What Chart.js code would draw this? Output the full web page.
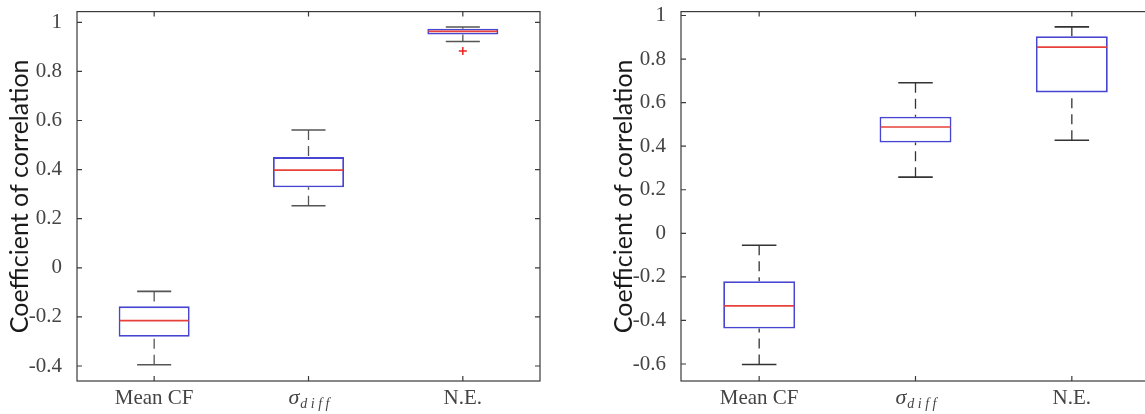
<!DOCTYPE html>
<html>
<head>
<meta charset="utf-8">
<script src="https://cdn.jsdelivr.net/npm/chart.js@4"></script>
<style>
  html, body { margin: 0; padding: 0; background: #fff; }
  body { width: 1145px; height: 414px; overflow: hidden; position: relative; }
  canvas { position: absolute; top: -8px; }
  #leftChart { left: 0; }
  #rightChart { left: 604px; }
</style>
</head>
<body>
<canvas id="leftChart" width="560" height="422"></canvas>
<canvas id="rightChart" width="566" height="422"></canvas>
<script>
// categories (the middle one is drawn as sigma with subscript "diff")
const categories = ['Mean CF', 'σdiff', 'N.E.'];

// left panel: five-number summaries per category
const leftMin    = [-0.395, 0.253, 0.922];
const leftQ1     = [-0.281, 0.328, 0.950];
const leftMedian = [-0.215, 0.398, 0.963];
const leftQ3     = [-0.157, 0.451, 0.974];
const leftMax    = [-0.096, 0.561, 0.981];
const leftOutliers = [{ x: 'N.E.', y: 0.883 }];
const leftTicks      = [-0.4, -0.2, 0, 0.2, 0.4, 0.6, 0.8, 1];
const leftTickLabels = ['-0.4', '-0.2', '0', '0.2', '0.4', '0.6', '0.8', '1'];

// right panel
const rightMin    = [-0.602, 0.258, 0.427];
const rightQ1     = [-0.437, 0.417, 0.647];
const rightMedian = [-0.333, 0.488, 0.855];
const rightQ3     = [-0.220, 0.535, 0.905];
const rightMax    = [-0.055, 0.691, 0.948];
const rightOutliers = [];
const rightTicks      = [-0.6, -0.4, -0.2, 0, 0.2, 0.4, 0.6, 0.8, 1];
const rightTickLabels = ['-0.6', '-0.4', '-0.2', '0', '0.2', '0.4', '0.6', '0.8', '1'];

const serif = '"Liberation Serif", "DejaVu Serif", serif';
const textColor = '#444';

// whiskers, caps and median lines, placed with the chart's own scales
const boxParts = {
    id: 'boxParts',
    afterDatasetsDraw(chart, args, opts) {
        const ctx = chart.ctx;
        const x = chart.scales.x, y = chart.scales.y;
        const bars = chart.getDatasetMeta(0).data;
        ctx.save();
        opts.median.forEach((m, i) => {
            const cx = x.getPixelForValue(i);
            const half = bars[i].width / 2;
            const cap = half * 0.48;
            // dashed whiskers
            ctx.strokeStyle = opts.whiskerColor;
            ctx.lineWidth = 1.3;
            ctx.setLineDash([10, 6]);
            ctx.beginPath();
            ctx.moveTo(cx, y.getPixelForValue(opts.max[i]));
            ctx.lineTo(cx, y.getPixelForValue(opts.q3[i]));
            ctx.moveTo(cx, y.getPixelForValue(opts.min[i]));
            ctx.lineTo(cx, y.getPixelForValue(opts.q1[i]));
            ctx.stroke();
            // caps
            ctx.setLineDash([]);
            ctx.lineWidth = 1.6;
            ctx.beginPath();
            [opts.max[i], opts.min[i]].forEach(v => {
                const py = y.getPixelForValue(v);
                ctx.moveTo(cx - cap, py);
                ctx.lineTo(cx + cap, py);
            });
            ctx.stroke();
            // median
            ctx.strokeStyle = '#e8403a';
            ctx.lineWidth = 1.6;
            ctx.beginPath();
            const py = y.getPixelForValue(m);
            ctx.moveTo(cx - half + 1, py);
            ctx.lineTo(cx + half - 1, py);
            ctx.stroke();
        });
        ctx.restore();
    }
};

// axes box with inward ticks and the category labels
const frame = {
    id: 'frame',
    afterDraw(chart, args, opts) {
        const ctx = chart.ctx;
        const a = chart.chartArea;
        const x = chart.scales.x, y = chart.scales.y;
        ctx.save();
        ctx.strokeStyle = opts.color;
        ctx.lineWidth = 1.2;
        ctx.strokeRect(a.left, a.top, a.right - a.left, a.bottom - a.top);
        ctx.beginPath();
        y.ticks.forEach(t => {
            const py = y.getPixelForValue(t.value);
            ctx.moveTo(a.left, py); ctx.lineTo(a.left + 5, py);
            ctx.moveTo(a.right, py); ctx.lineTo(a.right - 5, py);
        });
        categories.forEach((c, i) => {
            const px = x.getPixelForValue(i);
            ctx.moveTo(px, a.bottom); ctx.lineTo(px, a.bottom - 5);
            ctx.moveTo(px, a.top); ctx.lineTo(px, a.top + 5);
        });
        ctx.stroke();

        ctx.fillStyle = textColor;
        ctx.textBaseline = 'alphabetic';
        const base = a.bottom + 23;
        categories.forEach((c, i) => {
            const px = x.getPixelForValue(i);
            if (c === 'σdiff') {
                ctx.font = 'italic 22px ' + serif;
                const w1 = ctx.measureText('σ').width;
                ctx.font = 'italic 14px ' + serif;
                const w2 = ctx.measureText('d i f f').width;
                const left = px - (w1 + w2) / 2;
                ctx.textAlign = 'left';
                ctx.font = 'italic 22px ' + serif;
                ctx.fillText('σ', left, base);
                ctx.font = 'italic 14px ' + serif;
                ctx.fillText('d i f f', left + w1 + 1, base + 4);
            } else {
                ctx.textAlign = 'center';
                ctx.font = '21px ' + serif;
                ctx.fillText(c, px, base);
            }
        });
        ctx.restore();
    }
};

function makeChart(id, q1, q3, med, mn, mx, outliers, ticks, tickLabels, yMin, yMax, whiskerColor) {
    return new Chart(document.getElementById(id), {
        type: 'bar',
        data: {
            labels: categories,
            datasets: [{
                data: q1.map((v, i) => [v, q3[i]]),
                backgroundColor: '#ffffff',
                borderColor: '#4646d2',
                borderWidth: 1.8,
                borderSkipped: false,
                barPercentage: 0.46,
                categoryPercentage: 1
            }, {
                type: 'scatter',
                data: outliers,
                pointStyle: 'cross',
                radius: 4,
                borderColor: '#ee2020',
                borderWidth: 1.5
            }]
        },
        options: {
            responsive: false,
            animation: false,
            events: [],
            layout: { autoPadding: false, padding: { top: 3, right: 20, bottom: 0, left: 0 } },
            plugins: {
                legend: { display: false },
                tooltip: { enabled: false },
                boxParts: { q1: q1, q3: q3, median: med, min: mn, max: mx, whiskerColor: whiskerColor },
                frame: { color: '#3a3a3a' }
            },
            scales: {
                x: {
                    type: 'category',
                    grid: { display: false },
                    border: { display: false },
                    ticks: { display: false },
                    afterFit: s => { s.height = 33; }
                },
                y: {
                    min: yMin,
                    max: yMax,
                    grid: { display: false },
                    border: { display: false },
                    afterBuildTicks: s => { s.ticks = ticks.map(v => ({ value: v })); },
                    afterFit: s => { s.width = 77; },
                    ticks: {
                        padding: 7,
                        color: textColor,
                        font: { family: serif, size: 21 },
                        callback: (v, i) => tickLabels[i]
                    },
                    title: {
                        display: true,
                        text: 'Coefficient of correlation',
                        color: '#1a1a1a',
                        font: { family: 'Lato, "Open Sans", sans-serif', size: 25 },
                        padding: { top: 5, bottom: 0 }
                    }
                }
            }
        },
        plugins: [boxParts, frame]
    });
}

makeChart('leftChart', leftQ1, leftQ3, leftMedian, leftMin, leftMax, leftOutliers,
    leftTicks, leftTickLabels, -0.461, 1.0435, '#555');
makeChart('rightChart', rightQ1, rightQ3, rightMedian, rightMin, rightMax, rightOutliers,
    rightTicks, rightTickLabels, -0.678, 1.018, '#333');
</script>
</body>
</html>
